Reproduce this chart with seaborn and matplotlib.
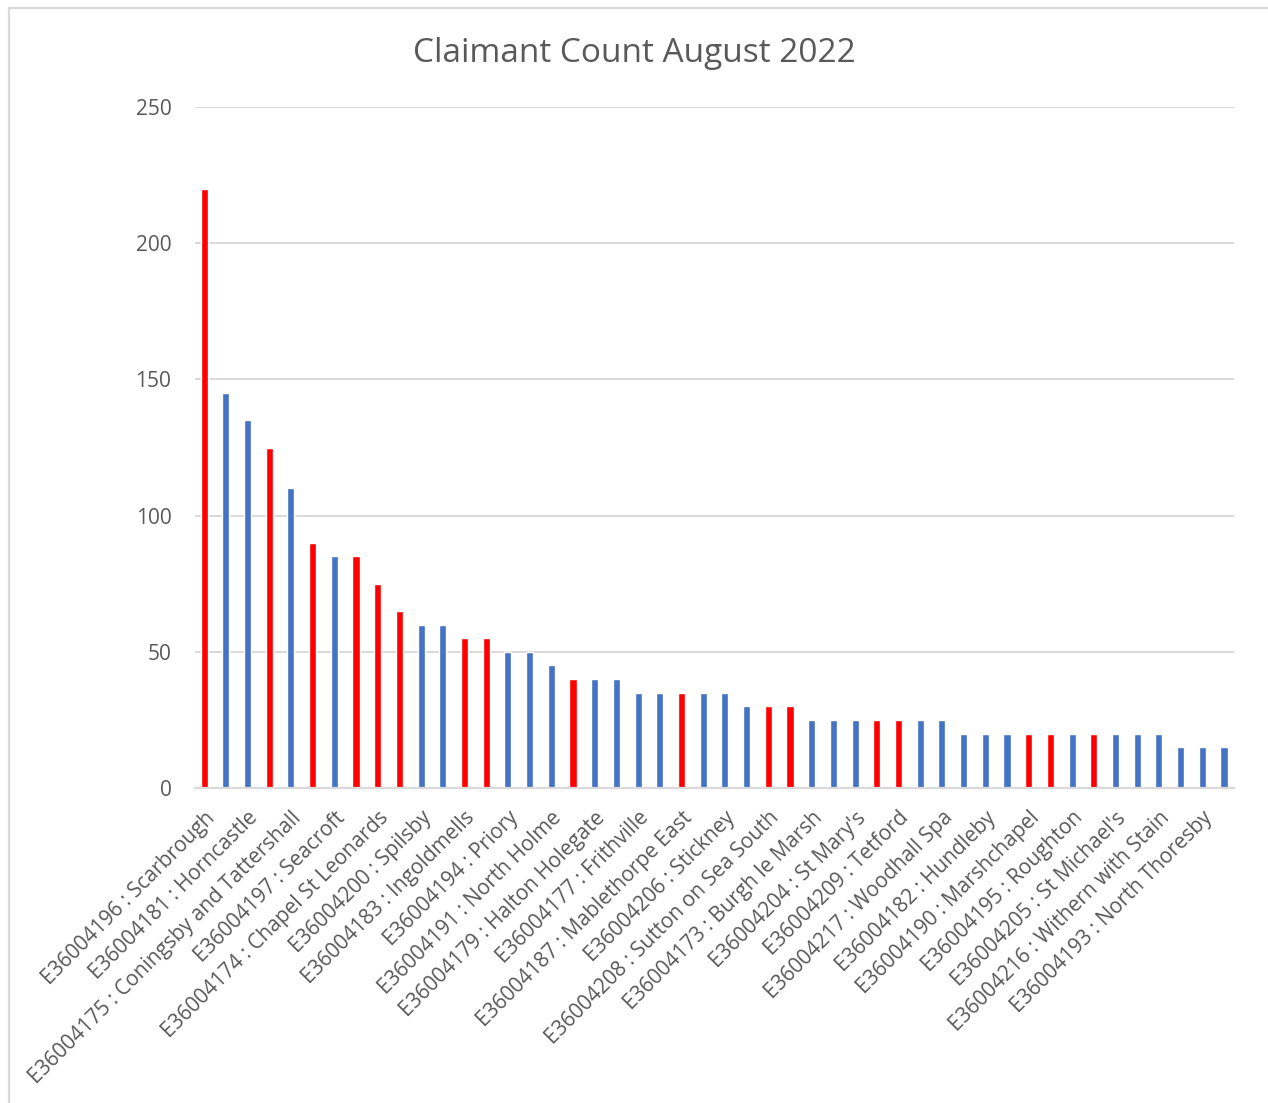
import matplotlib
matplotlib.use("Agg")
import matplotlib.pyplot as plt
import seaborn as sns
import pandas as pd
from matplotlib.lines import Line2D

# ---- data ----
title = "Claimant Count August 2022"
shown_labels = [
    "E36004196 : Scarbrough", "E36004181 : Horncastle",
    "E36004175 : Coningsby and Tattershall", "E36004197 : Seacroft",
    "E36004174 : Chapel St Leonards", "E36004200 : Spilsby",
    "E36004183 : Ingoldmells", "E36004194 : Priory",
    "E36004191 : North Holme", "E36004179 : Halton Holegate",
    "E36004177 : Frithville", "E36004187 : Mablethorpe East",
    "E36004206 : Stickney", "E36004208 : Sutton on Sea South",
    "E36004173 : Burgh le Marsh", "E36004204 : St Mary's",
    "E36004209 : Tetford", "E36004217 : Woodhall Spa",
    "E36004182 : Hundleby", "E36004190 : Marshchapel",
    "E36004195 : Roughton", "E36004205 : St Michael's",
    "E36004216 : Withern with Stain", "E36004193 : North Thoresby",
]
counts = [220, 145, 135, 125, 110, 90, 85, 85, 75, 65,
          60, 60, 55, 55, 50, 50, 45, 40, 40, 40,
          35, 35, 35, 35, 35, 30, 30, 30, 25, 25,
          25, 25, 25, 25, 25, 20, 20, 20, 20, 20,
          20, 20, 20, 20, 20, 15, 15, 15]
# 1 = highlighted (red), 0 = other (blue)
highlight = [1, 0, 0, 1, 0, 1, 0, 1, 1, 1,
             0, 0, 1, 1, 0, 0, 0, 1, 0, 0,
             0, 0, 1, 0, 0, 0, 1, 1, 0, 0,
             0, 1, 1, 0, 0, 0, 0, 0, 1, 1,
             0, 1, 0, 0, 0, 0, 0, 0]
y_ticks = [0, 50, 100, 150, 200, 250]

RED = "#FF0000"
BLUE = "#4472C4"
TEXT = "#595959"
GRID = "#D9D9D9"

df = pd.DataFrame({
    "pos": list(range(len(counts))),
    "count": counts,
    "group": ["red" if h else "blue" for h in highlight],
})

sns.set_theme(style="white")
plt.rcParams["font.family"] = ["Open Sans", "DejaVu Sans"]

fig = plt.figure(figsize=(12.68, 11.03), dpi=100)
ax = fig.add_axes([195 / 1268, 1 - 788 / 1103, (1234 - 195) / 1268, (788 - 107) / 1103])

sns.barplot(data=df, x="pos", y="count", hue="group",
            palette={"red": RED, "blue": BLUE}, dodge=False,
            width=0.33, legend=False, ax=ax, saturation=1, zorder=3)

ax.set_xlim(-0.42, len(counts) - 1 + 0.46)
ax.set_ylim(0, 250)
ax.set_yticks(y_ticks)
ax.set_yticklabels([str(v) for v in y_ticks])
ax.yaxis.grid(True, color=GRID, linewidth=1.4, zorder=0)
ax.xaxis.grid(False)
ax.set_axisbelow(True)

ax.set_xticks(list(range(0, len(counts), 2)))
ax.set_xticklabels(shown_labels, rotation=45, ha="right", rotation_mode="anchor")

ax.tick_params(axis="y", length=0, pad=17, labelsize=15, labelcolor=TEXT)
ax.tick_params(axis="x", length=0, pad=14, labelsize=15, labelcolor=TEXT)
ax.set_xlabel("")
ax.set_ylabel("")

for s in ["top", "right", "left"]:
    ax.spines[s].set_visible(False)
ax.spines["bottom"].set_color(GRID)
ax.spines["bottom"].set_linewidth(1.6)
ax.spines["bottom"].set_zorder(4)

fig.text(0.5, 1 - 53 / 1103, title, ha="center", va="center",
         fontsize=24, color=TEXT)

# outer chart border (only top and left edges are visible in the crop)
bx = 9 / 1268
by = 1 - 8 / 1103
fig.add_artist(Line2D([bx, 1.0], [by, by], transform=fig.transFigure,
                      color=GRID, linewidth=1.6))
fig.add_artist(Line2D([bx, bx], [0.0, by], transform=fig.transFigure,
                      color=GRID, linewidth=1.6))

fig.savefig("out.png", dpi=100, facecolor="white")
